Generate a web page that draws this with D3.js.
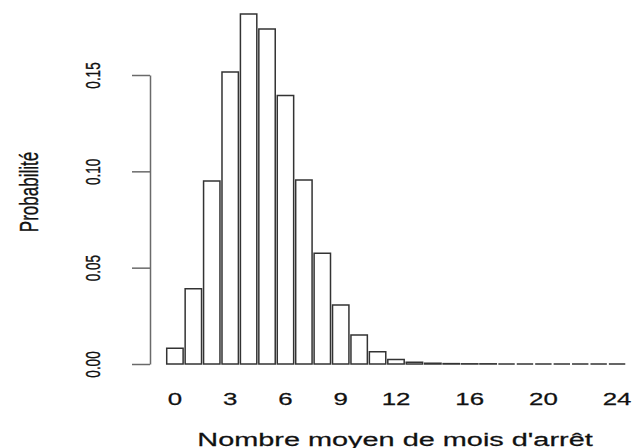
<!DOCTYPE html>
<html>
<head>
<meta charset="utf-8">
<script src="https://cdn.jsdelivr.net/npm/d3@7"></script>
<style>
body { margin: 0; background: #fff; }
text { font-family: "Liberation Sans", Arial, sans-serif; fill: #111; stroke: #111; stroke-width: 0.25; }
</style>
</head>
<body>
<svg id="chart" width="640" height="448"></svg>
<script>
// values
var months = d3.range(0, 25);
var probs = [0.0082, 0.039, 0.095, 0.1515, 0.1816, 0.1739, 0.1393, 0.0955, 0.0575, 0.0306,
	0.0151, 0.0064, 0.0023, 0.0009, 0.0004, 0.0002, 0.0001, 0.0001, 0, 0, 0, 0, 0, 0, 0];
var xLabels = [0, 3, 6, 9, 12, 16, 20, 24];
var yTicks = [0, 0.05, 0.10, 0.15];

// the original picture is stretched sideways, text gets the same stretch
var sx = 1.52;

var svg = d3.select("#chart");

var x = d3.scaleBand()
	.domain(months)
	.range([165.8, 626.2])
	.paddingInner(0.11)
	.paddingOuter(0.05);

var y = d3.scaleLinear()
	.domain([0, 0.15])
	.range([364, 75]);

// paths rather than rects so empty bars still show as a dash on the baseline
svg.append("g")
	.selectAll("path")
	.data(months)
	.enter()
	.append("path")
	.attr("d", function(d) {
		var x0 = x(d), x1 = x(d) + x.bandwidth();
		return "M" + x0 + "," + y(0) + "V" + y(probs[d]) + "H" + x1 + "V" + y(0) + "Z";
	})
	.attr("fill", "#fff")
	.attr("stroke", "#333")
	.attr("stroke-width", 1.5);

var yAxis = svg.append("g")
	.attr("transform", "translate(150,0)")
	.call(d3.axisLeft(y).tickValues(yTicks).tickSize(18).tickSizeOuter(0).tickFormat(d3.format(".2f")));

yAxis.select(".domain").attr("stroke", "#6a6a6a").attr("stroke-width", 1.5);
yAxis.selectAll(".tick line").attr("stroke", "#6a6a6a").attr("stroke-width", 1.5);
yAxis.selectAll(".tick text")
	.attr("x", 0)
	.attr("dy", 0)
	.attr("fill", null)
	.attr("font-size", 13.5)
	.attr("font-family", null)
	.attr("text-anchor", "middle")
	.attr("transform", "translate(-50,0) scale(" + sx + ",1) rotate(-90)");

svg.append("g")
	.selectAll("text")
	.data(xLabels)
	.enter()
	.append("text")
	.attr("transform", function(d) {
		return "translate(" + (x(d) + x.bandwidth() / 2) + ",405) scale(" + sx + ",1)";
	})
	.attr("text-anchor", "middle")
	.attr("font-size", 17)
	.text(function(d) { return d; });

svg.append("text")
	.attr("transform", "translate(38,192) scale(" + sx + ",1) rotate(-90)")
	.attr("text-anchor", "middle")
	.attr("font-size", 17)
	.text("Probabilité");

svg.append("text")
	.attr("transform", "translate(395,446) scale(" + sx + ",1)")
	.attr("text-anchor", "middle")
	.attr("font-size", 19)
	.text("Nombre moyen de mois d'arrêt");
</script>
</body>
</html>
